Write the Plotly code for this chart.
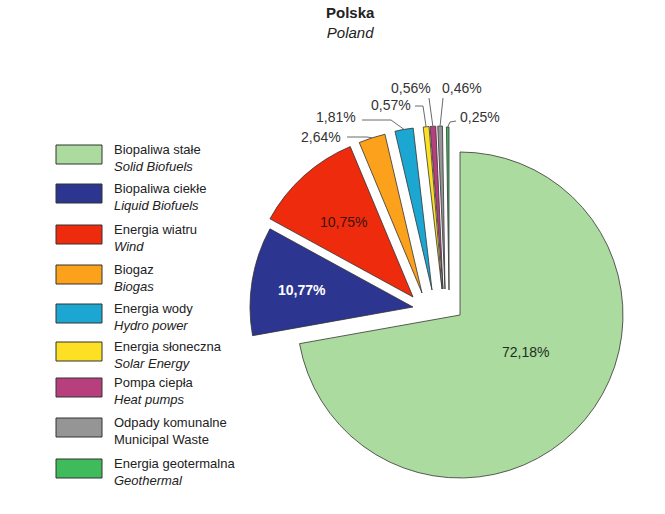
import math
import plotly.graph_objects as go

W, H = 665, 514

# ---- data ----
labels_pl = ["Biopaliwa stałe", "Biopaliwa ciekłe", "Energia wiatru", "Biogaz",
             "Energia wody", "Energia słoneczna", "Pompa ciepła",
             "Odpady komunalne", "Energia geotermalna"]
labels_en = ["Solid Biofuels", "Liquid Biofuels", "Wind", "Biogas",
             "Hydro power", "Solar Energy", "Heat pumps",
             "Municipal Waste", "Geothermal"]
values = [72.18, 10.77, 10.75, 2.64, 1.81, 0.57, 0.56, 0.46, 0.25]

# ---- styles ----
colors = ["#acdb9f", "#2c3590", "#ee2b0c", "#fba11c", "#1ca7d2",
          "#fde024", "#b83f7d", "#959595", "#3fbb5b"]
# explosion offset of each slice (pixels)
offsets = [(0, 0), (-47, -8), (-47, -18), (-38, -22), (-28, -25),
           (-18, -26), (-17, -26), (-15, -26), (-11, -25)]
CX, CY, R = 460, 315, 163
FONT = "Liberation Sans Narrow, Arial Narrow, Liberation Sans, Arial"


def fmt(v):
    return f"{v:.2f}".replace(".", ",") + "%"


def px(x):
    return x / W


def py(y):
    return 1 - y / H


fig = go.Figure()
n = len(values)
for i in range(n):
    cx, cy = CX + offsets[i][0], CY + offsets[i][1]
    cols = ["rgba(0,0,0,0)"] * n
    cols[i] = colors[i]
    lw = [0] * n
    lw[i] = 0.8
    fig.add_trace(go.Pie(
        values=values, labels=[f"{a} / {b}" for a, b in zip(labels_pl, labels_en)],
        sort=False, direction="clockwise", rotation=0,
        marker=dict(colors=cols, line=dict(color="#333333", width=lw)),
        textinfo="none",
        domain=dict(x=[px(cx - R), px(cx + R)], y=[py(cy + R), py(cy - R)]),
        showlegend=False, hoverinfo="skip",
    ))

shapes = []
annotations = []

# title
annotations.append(dict(x=px(350), y=py(2), xref="paper", yref="paper",
                        xanchor="center", yanchor="top", showarrow=False,
                        text="<b>Polska</b><br><i>Poland</i>",
                        font=dict(family=FONT, size=15, color="#222")))

# legend (manual)
box_tops = [145, 184, 225, 265, 304, 342, 378, 418, 459]
for i in range(n):
    y0 = box_tops[i]
    shapes.append(dict(type="rect", xref="paper", yref="paper",
                       x0=px(56), x1=px(102), y0=py(y0), y1=py(y0 + 19),
                       fillcolor=colors[i], line=dict(color="#333", width=1)))
    en = labels_en[i] if i == 7 else f"<i>{labels_en[i]}</i>"
    annotations.append(dict(x=px(112), y=py(y0 - 5), xref="paper", yref="paper",
                            xanchor="left", yanchor="top", align="left",
                            showarrow=False,
                            text=f"{labels_pl[i]}<br>{en}",
                            font=dict(family=FONT, size=13, color="#222")))

# big slice labels (inside)
big = {0: (525, 352, "#1f2f1f", False),
       1: (302, 290, "white", True),
       2: (343, 222, "#3a1510", False)}
for i, (tx, ty, col, bold) in big.items():
    t = fmt(values[i])
    annotations.append(dict(x=px(tx), y=py(ty), xref="paper", yref="paper",
                            xanchor="center", yanchor="middle", showarrow=False,
                            text=f"<b>{t}</b>" if bold else t,
                            font=dict(family=FONT, size=14, color=col)))

# small slice labels with leader lines
cum = [0]
for v in values:
    cum.append(cum[-1] + v)
tot = cum[-1]


def top_point(i):
    a = math.radians((cum[i] + values[i] / 2) / tot * 360)
    cx, cy = CX + offsets[i][0], CY + offsets[i][1]
    return cx + R * math.sin(a), cy - R * math.cos(a)

# (text x, text y, anchor, leader path points)
small = {
    3: (343, 137, "right", [(347, 137), (367, 137)]),
    4: (358, 117, "right", [(362, 120), (391, 120)]),
    5: (413, 105, "right", [(415, 106), (423, 106)]),
    6: (411, 88, "center", [(429, 98)]),
    7: (462, 88, "center", [(443, 98)]),
    8: (458, 117, "left", [(456, 121), (450, 122)]),
}
for i, (tx, ty, anc, pts) in small.items():
    ex, ey = top_point(i)
    allp = pts + [(ex, ey)]
    path = "M " + " L ".join(f"{px(x)},{py(y)}" for x, y in allp)
    shapes.append(dict(type="path", xref="paper", yref="paper", path=path,
                       line=dict(color="#6a6a6a", width=1)))
    annotations.append(dict(x=px(tx), y=py(ty), xref="paper", yref="paper",
                            xanchor=anc, yanchor="middle", showarrow=False,
                            text=fmt(values[i]),
                            font=dict(family=FONT, size=14, color="#333")))

fig.update_layout(width=W, height=H, margin=dict(l=0, r=0, t=0, b=0),
                  paper_bgcolor="white", plot_bgcolor="white",
                  shapes=shapes, annotations=annotations)
fig.write_html("out.html")
